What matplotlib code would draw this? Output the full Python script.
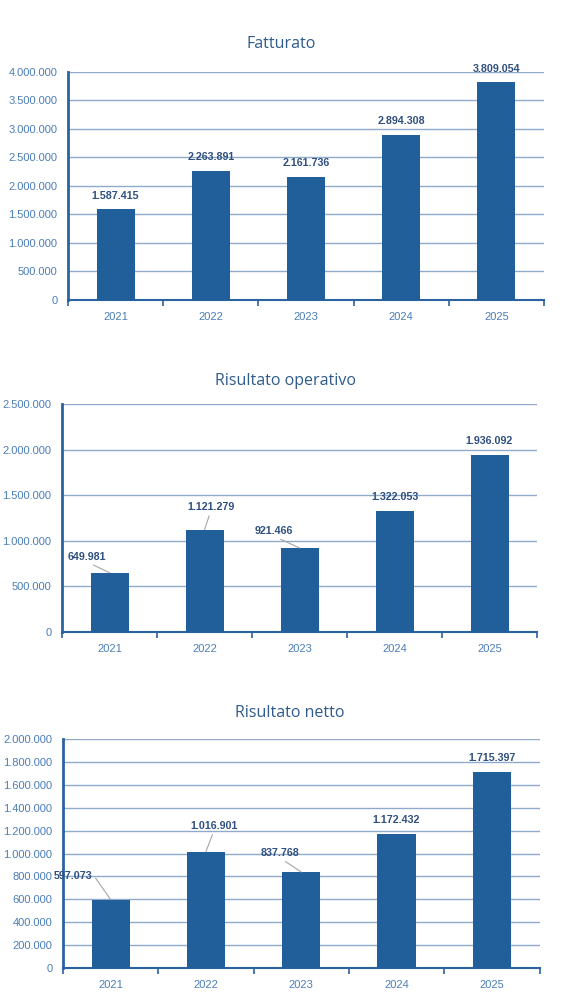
import matplotlib
matplotlib.use("Agg")
import matplotlib.pyplot as plt
from matplotlib.ticker import FuncFormatter

years = ["2021", "2022", "2023", "2024", "2025"]
fatturato = [1587415, 2263891, 2161736, 2894308, 3809054]
ris_operativo = [649981, 1121279, 921466, 1322053, 1936092]
ris_netto = [597073, 1016901, 837768, 1172432, 1715397]

titles = ["Fatturato", "Risultato operativo", "Risultato netto"]
ymax = [4000000, 2500000, 2000000]
ystep = [500000, 500000, 200000]

BAR = "#215F9A"
TICK = "#4A7DB8"
LABEL = "#2F4F7F"
GRID = "#8FAACB"
SPINE = "#2B62A0"
TITLE = "#2E5B8C"

def it_fmt(v, pos=None):
    return f"{int(round(v)):,}".replace(",", ".")

# label offsets in pixels (dx, dy) from bar top, and whether a leader line is drawn
offsets = [
    [(0, 13), (0, 14), (0, 14), (0, 14), (0, 13)],
    [(-23, 16), (6, 23), (-26, 17), (0, 14), (0, 14)],
    [(-38, 24), (8, 26), (-21, 19), (0, 14), (0, 14)],
]
leaders = [
    [None] * 5,
    [(0.5, 0), (0.5, 0), (0.5, 0), None, None],
    [(1.05, 0.5), (0.5, 0), (0.5, 0), None, None],
]

fig = plt.figure(figsize=(5.79, 10.06), dpi=100)
H = 1006.0
W = 579.0
boxes = [(68, 544, 71.5, 300), (62, 537, 404, 632), (63, 539.5, 739, 968)]
title_pos = [(281.5, 44), (285.5, 381), (289.5, 713)]
series = [fatturato, ris_operativo, ris_netto]

for i in range(3):
    l, r, t, b = boxes[i]
    ax = fig.add_axes([l / W, 1 - b / H, (r - l) / W, (b - t) / H])
    x = list(range(len(years)))
    ax.bar(x, series[i], width=0.4, color=BAR, zorder=3)
    ax.set_xlim(-0.5, len(years) - 0.5)
    ax.set_ylim(0, ymax[i])
    yt = list(range(0, ymax[i] + 1, ystep[i]))
    ax.set_yticks(yt)
    ax.yaxis.set_major_formatter(FuncFormatter(it_fmt))
    ax.grid(axis="y", color=GRID, linewidth=1.0, zorder=0)
    ax.set_axisbelow(True)
    for s in ["top", "right"]:
        ax.spines[s].set_visible(False)
    ax.spines["left"].set_color(SPINE)
    ax.spines["left"].set_linewidth(2.0)
    ax.spines["bottom"].set_color(SPINE)
    ax.spines["bottom"].set_linewidth(1.5)
    ax.tick_params(axis="y", length=0, pad=7.5, labelsize=8, labelcolor=TICK)
    ax.set_xticks(x)
    ax.set_xticklabels(years)
    ax.tick_params(axis="x", length=0, pad=8.5, labelsize=8, labelcolor=TICK)
    ax.set_xticks([k - 0.5 for k in range(len(years) + 1)], minor=True)
    ax.tick_params(axis="x", which="minor", length=4, width=1.2, color=SPINE, direction="out")
    for lab in ax.get_xticklabels() + ax.get_yticklabels():
        lab.set_family("Liberation Sans")
    tx, ty = title_pos[i]
    fig.text(tx / W, 1 - ty / H, titles[i],
             ha="center", va="center", fontsize=11.5, color=TITLE, family="Open Sans")
    for k, v in enumerate(series[i]):
        dx, dy = offsets[i][k]
        kw = {}
        if leaders[i][k] is not None:
            kw["arrowprops"] = dict(arrowstyle="-", color="#A6A6A6", lw=0.8,
                                    shrinkA=1, shrinkB=0, relpos=leaders[i][k])
        ax.annotate(it_fmt(v), xy=(k, v), xytext=(dx, dy), textcoords="offset pixels",
                    ha="center", va="center", fontsize=7.7, fontweight="bold",
                    color=LABEL, family="Liberation Sans", zorder=5,
                    annotation_clip=False, **kw)

fig.savefig("out.png", dpi=100, facecolor="white")
